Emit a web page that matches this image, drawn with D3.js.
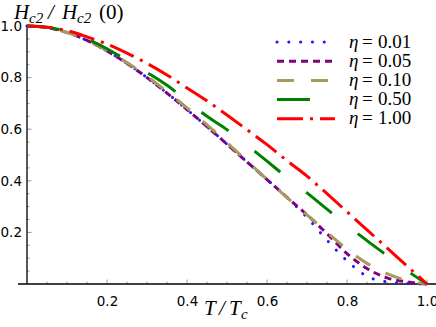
<!DOCTYPE html>
<html>
<head>
<meta charset="utf-8">
<script src="https://cdn.jsdelivr.net/npm/d3@7"></script>
<style>
body { margin: 0; background: #fff; }
svg { display: block; }
.tick text { font-family: "DejaVu Sans", sans-serif; font-size: 13.5px; fill: #000; }
.lab { font-family: "Liberation Serif", "DejaVu Serif", serif; font-style: italic; font-size: 21px; }
.leg { font-family: "Liberation Serif", "DejaVu Serif", serif; font-size: 19px; }
</style>
</head>
<body>
<svg id="myGraph" width="436" height="327"></svg>
<script>
// data
var tValues = [0, 0.05, 0.1, 0.15, 0.2, 0.25, 0.3, 0.35, 0.4, 0.45, 0.5, 0.55, 0.6, 0.65, 0.7, 0.75, 0.8, 0.85, 0.9, 0.95, 1.0];
var eta001 = [1, 0.994, 0.975, 0.944, 0.903, 0.855, 0.8, 0.74, 0.676, 0.61, 0.542, 0.473, 0.405, 0.335, 0.258, 0.17, 0.09, 0.03, 0.008, 0.002, 0];
var eta005 = [1, 0.994, 0.975, 0.944, 0.903, 0.855, 0.8, 0.74, 0.676, 0.61, 0.542, 0.473, 0.405, 0.336, 0.268, 0.195, 0.118, 0.06, 0.024, 0.008, 0];
var eta010 = [1, 0.994, 0.975, 0.945, 0.905, 0.858, 0.805, 0.745, 0.683, 0.617, 0.548, 0.476, 0.405, 0.335, 0.268, 0.2, 0.135, 0.08, 0.04, 0.014, 0];
var eta050 = [1, 0.995, 0.978, 0.95, 0.912, 0.867, 0.82, 0.77, 0.71, 0.65, 0.598, 0.538, 0.476, 0.413, 0.353, 0.29, 0.228, 0.168, 0.11, 0.052, 0];
var eta100 = [1, 0.995, 0.982, 0.958, 0.93, 0.895, 0.855, 0.81, 0.76, 0.71, 0.655, 0.598, 0.54, 0.478, 0.418, 0.35, 0.28, 0.21, 0.14, 0.07, 0];
var seriesNames = ["0.01", "0.05", "0.10", "0.50", "1.00"];
var seriesValues = [eta001, eta005, eta010, eta050, eta100];
var tickLabels = [0.2, 0.4, 0.6, 0.8, 1.0];

var colors = ["#1a1aff", "#800080", "#a89a5c", "#008000", "#ff0000"];
var dashes = ["0.1,11.7", "7,5", "17,17", "33,33", "26,7,3,7"];
var caps = ["round", "butt", "butt", "butt", "butt"];

var svg = d3.select("#myGraph");
var x = d3.scaleLinear().domain([0, 1]).range([27, 427]);
var y = d3.scaleLinear().domain([0, 1]).range([284, 26]);

// minor + major ticks, pointing inward
var minor = d3.range(0.05, 1.001, 0.05);
function isMajor(d){ return Math.abs(d*5 - Math.round(d*5)) < 1e-6; }
svg.selectAll(".xt").data(minor).enter().append("line")
	.attr("x1", function(d){ return x(d); }).attr("x2", function(d){ return x(d); })
	.attr("y1", y(0)).attr("y2", function(d){ return y(0) - (isMajor(d) ? 4.5 : 2.5); })
	.attr("stroke", "#999").attr("stroke-width", 1);
svg.selectAll(".yt").data(minor).enter().append("line")
	.attr("y1", function(d){ return y(d); }).attr("y2", function(d){ return y(d); })
	.attr("x1", x(0)).attr("x2", function(d){ return x(0) + (isMajor(d) ? 4.5 : 2.5); })
	.attr("stroke", "#999").attr("stroke-width", 1);

// axes (labels only, ticks drawn above)
svg.append("g").attr("transform", "translate(0," + y(0) + ")")
	.call(d3.axisBottom(x).tickValues(tickLabels).tickFormat(d3.format(".1f")).tickSize(0).tickPadding(12.5))
	.call(function(g){ g.select(".domain").remove(); });
svg.append("g").attr("transform", "translate(" + (x(0) - 5) + ",0)")
	.call(d3.axisLeft(y).tickValues(tickLabels).tickFormat(d3.format(".1f")).tickSize(0).tickPadding(0))
	.call(function(g){ g.select(".domain").remove(); });

svg.append("line").attr("x1", 18).attr("x2", 436).attr("y1", y(0)).attr("y2", y(0))
	.attr("stroke", "#000").attr("stroke-width", 1.3);
svg.append("line").attr("x1", x(0)).attr("x2", x(0)).attr("y1", y(1) - 1).attr("y2", y(0))
	.attr("stroke", "#000").attr("stroke-width", 1.3);

// curves
var line = d3.line()
	.x(function(d, i){ return x(tValues[i]); })
	.y(function(d){ return y(d); })
	.curve(d3.curveMonotoneX);

svg.selectAll(".curve").data(seriesValues).enter().append("path")
	.attr("d", line)
	.attr("fill", "none")
	.attr("stroke", function(d, i){ return colors[i]; })
	.attr("stroke-width", 3)
	.attr("stroke-dasharray", function(d, i){ return dashes[i]; })
	.attr("stroke-linecap", function(d, i){ return caps[i]; });

// legend
var leg = svg.selectAll(".legrow").data(seriesNames).enter().append("g")
	.attr("transform", function(d, i){ return "translate(0," + (42 + i * 19.2) + ")"; });
leg.append("line").attr("x1", 277).attr("x2", 335).attr("y1", 0).attr("y2", 0)
	.attr("stroke", function(d, i){ return colors[i]; })
	.attr("stroke-width", 3)
	.attr("stroke-dasharray", function(d, i){ return dashes[i]; })
	.attr("stroke-linecap", function(d, i){ return caps[i]; });
var lt = leg.append("text").attr("class", "leg").attr("y", 5.5);
lt.append("tspan").attr("x", 349).style("font-style", "italic").text("η");
lt.append("tspan").attr("x", 362).text("=");
lt.append("tspan").attr("x", 378).text(function(d){ return d; });

// axis titles
var ty = svg.append("text").attr("class", "lab").attr("y", 19);
ty.append("tspan").attr("x", 14).text("H");
ty.append("tspan").attr("x", 29).attr("font-size", 15).attr("dy", 4).text("c2");
ty.append("tspan").attr("x", 48).attr("dy", -4).text("/");
ty.append("tspan").attr("x", 62).text("H");
ty.append("tspan").attr("x", 77).attr("font-size", 15).attr("dy", 4).text("c2");
ty.append("tspan").attr("x", 99).attr("dy", -4).style("font-style", "normal").text("(0)");

var tx = svg.append("text").attr("class", "lab").attr("y", 315);
tx.append("tspan").attr("x", 204).text("T");
tx.append("tspan").attr("x", 219).text("/");
tx.append("tspan").attr("x", 229).text("T");
tx.append("tspan").attr("x", 241).attr("font-size", 15).attr("dy", 4).text("c");
</script>
</body>
</html>
